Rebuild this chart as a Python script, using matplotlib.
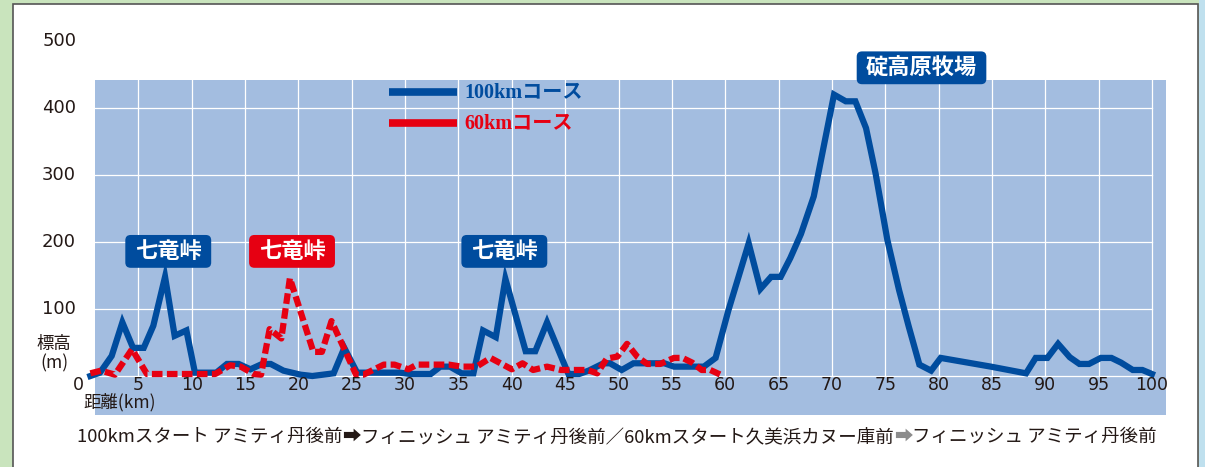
import matplotlib.pyplot as plt
from matplotlib.patches import Rectangle, FancyBboxPatch

# 距離(km)と標高(m) - 100kmコース
km_100 = [0.5, 1.4, 2.5, 3.5, 4.5, 5.5, 6.4, 7.5, 8.4, 9.5, 10.3, 12.3, 13.3, 14.4, 15.5,
          16.6, 17.4, 18.6, 20.2, 21.3, 23.3, 24.3, 25.5, 29.5, 30.5, 32.4, 33.3, 34.2,
          35.3, 36.4, 37.3, 38.5, 39.4, 41.3, 42.2, 43.3, 45.3, 46.3, 47.2, 48.6, 49.2,
          50.3, 51.4, 54.3, 55.2, 58.0, 59.1, 60.3, 62.2, 63.3, 64.3, 65.2, 66.1, 67.1,
          68.3, 70.2, 71.3, 72.2, 73.2, 74.1, 75.2, 76.3, 77.2, 78.2, 79.3, 80.2, 84.9,
          88.2, 89.1, 90.2, 91.2, 92.3, 93.2, 94.1, 95.2, 96.2, 97.1, 98.2, 99.1, 100.0]
alt_100 = [0, 5, 30, 80, 42, 42, 75, 148, 60, 68, 5, 5, 18, 18, 10,
           18, 18, 8, 2, 0, 4, 42, 5, 5, 3, 3, 14, 14,
           4, 4, 68, 58, 145, 37, 37, 80, 3, 3, 8, 19, 19,
           9, 19, 19, 14, 14, 27, 98, 198, 130, 148, 148, 176, 212,
           268, 420, 410, 410, 370, 302, 203, 128, 74, 17, 8, 27, 14,
           4, 27, 27, 48, 28, 18, 18, 27, 27, 20, 9, 9, 3]

# 60kmコース
km_60 = [0.5, 1.5, 2.8, 4.4, 5.8, 12.2, 13.6, 14.6, 15.8, 16.5, 17.3, 18.4, 19.2, 21.4,
         22.2, 23.1, 25.4, 26.1, 28.0, 29.0, 30.3, 31.1, 34.1, 35.3, 36.7, 38.0, 40.0,
         41.0, 42.0, 43.3, 44.6, 47.1, 48.0, 48.9, 49.9, 50.8, 51.8, 52.7, 53.9, 55.2,
         56.0, 56.9, 57.8, 58.6, 59.7]
alt_60 = [4, 8, 2, 40, 3, 3, 16, 14, 3, 2, 70, 56, 146, 36,
          36, 82, 2, 2, 17, 17, 10, 17, 17, 14, 14, 27, 10,
          19, 9, 14, 9, 9, 4, 26, 29, 48, 28, 18, 18, 27,
          27, 20, 9, 9, 1]

x_ticks = list(range(5, 101, 5))
y_ticks = [100, 200, 300, 400, 500]

# 地名ラベル (文字, 距離, 標高, 色)
places = [("七竜峠", 7.8, 186, "#004c9e"),
          ("七竜峠", 19.4, 186, "#e60012"),
          ("七竜峠", 39.3, 186, "#004c9e"),
          ("碇高原牧場", 78.4, 460, "#004c9e")]

BLUE = "#004c9e"
RED = "#e60012"
BG = "#a3bde0"
JP = ["Noto Sans CJK JP", "DejaVu Sans"]
plt.rcParams["font.family"] = JP

fig = plt.figure(figsize=(12.05, 4.67), dpi=100, facecolor="#c9e4bd")

# 外側の白いパネル
fig.patches.append(Rectangle((13 / 1205, -0.1), (1198 - 13) / 1205, 1.1 - 4 / 467,
                             transform=fig.transFigure, facecolor="white",
                             edgecolor="#555555", linewidth=1.2, zorder=-2))
fig.patches.append(Rectangle((1199 / 1205, 0), 6 / 1205, 1, transform=fig.transFigure,
                             facecolor="#bfe0ee", edgecolor="none", zorder=-2))

# 軸は図全体を使い、データ座標で全部描く
ax = fig.add_axes([0, 0, 1, 1])
ax.set_xlim(-7.97, 104.97)
ax.set_ylim(-135.8, 561.2)
ax.axis("off")

# 青い背景
ax.add_patch(Rectangle((0.94, -58.2), 101.3 - 0.94, 441.8 + 58.2,
                       facecolor=BG, edgecolor="none", zorder=1))
for y in [0] + y_ticks[:-1]:
    ax.plot([0.94, 100], [y, y], color="white", lw=0.9, zorder=2)
for x in x_ticks:
    ax.plot([x, x], [0, 441.8], color="white", lw=0.9, zorder=2)

# 標高の線
ax.plot(km_100, alt_100, color=BLUE, lw=4.5, solid_joinstyle="miter", zorder=3)
ax.plot(km_60, alt_60, color=RED, lw=4.5, dashes=(1.7, 0.7), dash_capstyle="butt", zorder=4)

# 目盛りの数字
for x in x_ticks:
    ax.text(x, -14, str(x), ha="center", va="center", fontsize=12.5,
            family="DejaVu Sans", color="#231815", zorder=5)
ax.text(-0.66, -14, "0", ha="center", va="center", fontsize=12.5,
        family="DejaVu Sans", color="#231815", zorder=5)
for y in y_ticks:
    ax.text(-0.84, y, str(y), ha="right", va="center", fontsize=13,
            family="DejaVu Sans", color="#231815", zorder=5)

ax.text(-2.9, 48.5, "標高", ha="center", va="center", fontsize=12.5, color="#231815")
ax.text(-2.9, 19, "(m)", ha="center", va="center", fontsize=12.5, color="#231815")
ax.text(3.24, -39, "距離(km)", ha="center", va="center", fontsize=12.5, color="#231815", zorder=5)

# 凡例
ax.plot([28.5, 34.9], [424, 424], color=BLUE, lw=5.5, solid_capstyle="butt", zorder=5)
ax.plot([28.5, 34.9], [377, 377], color=RED, lw=5.5, solid_capstyle="butt", zorder=5)
leg_font = ["Liberation Serif", "Noto Sans CJK JP"]
ax.text(35.6, 424, "100kmコース", ha="left", va="center", fontsize=14.5, fontweight="bold",
        family=leg_font, color=BLUE, zorder=5)
ax.text(35.6, 377, "60kmコース", ha="left", va="center", fontsize=14.5, fontweight="bold",
        family=leg_font, color=RED, zorder=5)

# 地名ラベル (角丸の箱は文字数に合わせる)
for name, x, y, c in places:
    w = 2.05 * len(name) + 1.9
    h = 49
    ax.add_patch(FancyBboxPatch((x - w / 2, y - h / 2), w, h,
                                boxstyle="round,pad=0,rounding_size=0.5",
                                mutation_aspect=15.9, facecolor=c, edgecolor="none", zorder=6))
    ax.text(x, y, name, ha="center", va="center", fontsize=16, fontweight="bold",
            color="white", zorder=7)

# 下の説明文
fs = 13.3
t1 = ax.text(-0.75, -91, "100kmスタート アミティ丹後前", ha="left", va="center",
             fontsize=fs, color="#231815")
t2 = ax.annotate("➡", xy=(1, 0.5), xycoords=t1, ha="left", va="center",
                 fontsize=fs, color="#231815")
t3 = ax.annotate("フィニッシュ アミティ丹後前／60kmスタート久美浜カヌー庫前", xy=(1, 0.5),
                 xycoords=t2, ha="left", va="center", fontsize=fs, color="#231815")
t4 = ax.annotate("➡", xy=(1, 0.5), xycoords=t3, ha="left", va="center",
                 fontsize=fs, color="#8c8c8c")
ax.annotate("フィニッシュ アミティ丹後前", xy=(1, 0.5), xycoords=t4, ha="left", va="center",
            fontsize=fs, color="#231815")

fig.savefig("out.png", dpi=100, facecolor=fig.get_facecolor())
